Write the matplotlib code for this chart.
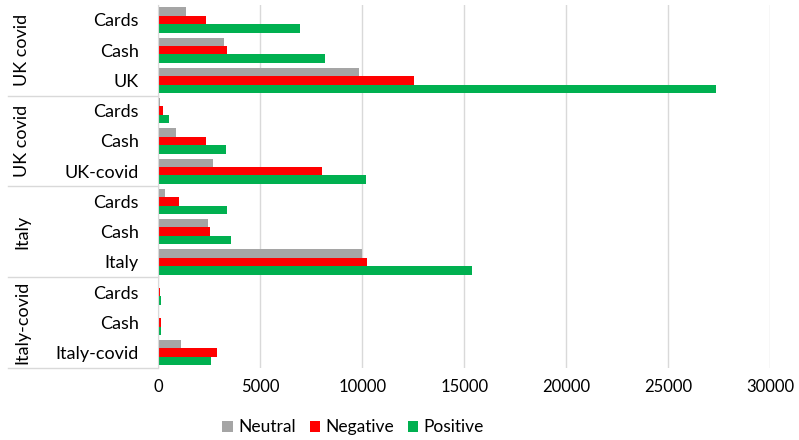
import matplotlib
matplotlib.use("Agg")
import matplotlib.pyplot as plt
import matplotlib.transforms as mtransforms
import numpy as np

plt.rcParams['font.family'] = ['Lato', 'DejaVu Sans']

groups = ['UK covid', 'UK covid', 'Italy', 'Italy-covid']
categories = ['Cards', 'Cash', 'UK',
              'Cards', 'Cash', 'UK-covid',
              'Cards', 'Cash', 'Italy',
              'Cards', 'Cash', 'Italy-covid']
neutral = [1370, 3240, 9850, 100, 880, 2700, 340, 2460, 9980, 60, 60, 1110]
negative = [2350, 3380, 12550, 240, 2350, 8040, 1000, 2520, 10240, 80, 150, 2870]
positive = [6960, 8190, 27350, 520, 3320, 10180, 3370, 3570, 15400, 150, 130, 2610]

fig = plt.figure(figsize=(7.99, 4.4), dpi=100)
ax = fig.add_axes([0.198, 0.164, 0.766, 0.825])

y = np.arange(len(categories))
h = 0.28
ax.barh(y - h, neutral, height=h, color='#A5A5A5', label='Neutral')
ax.barh(y, negative, height=h, color='#FF0000', label='Negative')
ax.barh(y + h, positive, height=h, color='#00B050', label='Positive')

ax.set_ylim(11.5, -0.5)
ax.set_xlim(0, 30000)
ax.set_xticks(np.arange(0, 30001, 5000))
ax.set_yticks(y)
ax.set_yticklabels(categories, fontsize=13)
ax.tick_params(axis='y', length=0, pad=14)
ax.tick_params(axis='x', length=0, pad=8, labelsize=12)
ax.grid(axis='x', color='#D9D9D9', linewidth=1)
ax.set_axisbelow(True)
for s in ['top', 'right', 'bottom']:
    ax.spines[s].set_visible(False)
ax.spines['left'].set_color('#D9D9D9')

# group separators and labels on the category axis
trans = mtransforms.blended_transform_factory(ax.transAxes, ax.transData)
for k, g in enumerate(groups):
    lo = k * 3 - 0.5
    hi = k * 3 + 2.5
    ax.plot([-0.245, 0], [hi, hi], transform=trans, color='#D9D9D9', lw=1, clip_on=False)
    ax.text(-0.222, (lo + hi) / 2, g, transform=trans, rotation=90,
            ha='center', va='center', fontsize=13)

ax.legend(loc='lower center', bbox_to_anchor=(0.442, -0.025), bbox_transform=fig.transFigure,
          ncol=3, frameon=False, fontsize=12.5, handlelength=0.6, handleheight=0.6,
          handletextpad=0.3, columnspacing=0.8)

fig.savefig('out.png', dpi=100)
